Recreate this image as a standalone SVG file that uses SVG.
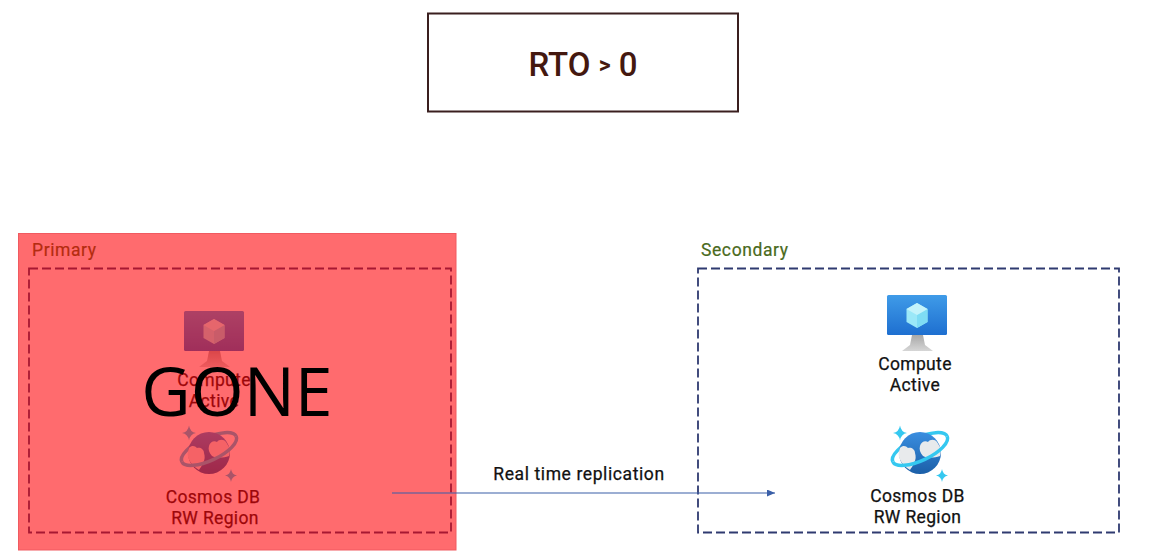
<svg xmlns="http://www.w3.org/2000/svg" width="1166" height="551" viewBox="0 0 1166 551">
<style>
text{font-family:Roboto,"Liberation Sans",sans-serif;fill:#111}
.lbl{font-size:17.5px;text-anchor:middle;letter-spacing:.35px;stroke:#111;stroke-width:.25}
.tag{font-size:17.5px;letter-spacing:.6px;stroke:#4a6a20;stroke-width:.2;fill:#4a6a20}
.zone{fill:none;stroke:#2f3a70;stroke-width:1.8;stroke-dasharray:9 4}
.conn{fill:none;stroke:#3a5fa8;stroke-width:1.1}
.ring{fill:none;stroke:#35c8f0;stroke-width:3.500}
</style>
<defs>
<linearGradient id="scr" x1="0" y1="0" x2="0" y2="1"><stop offset="0" stop-color="#3f9be8"/><stop offset="1" stop-color="#1e6fd0"/></linearGradient>
<linearGradient id="std" x1="0" y1="0" x2="0" y2="1"><stop offset="0" stop-color="#a8a8a8"/><stop offset="1" stop-color="#d6d6d6"/></linearGradient>
<linearGradient id="glb" x1="0" y1="0" x2="0" y2="1"><stop offset="0" stop-color="#3a8ee0"/><stop offset="1" stop-color="#1b5fa8"/></linearGradient>
<marker id="arr" markerWidth="9" markerHeight="8" refX="8" refY="3.500" orient="auto" markerUnits="userSpaceOnUse"><path d="M0 0L8 3.500L0 7Z" fill="#3a5fa8"/></marker>
<symbol id="vm" overflow="visible">
<path d="M25 40h11l2 10 8 6H15l8-6Z" fill="url(#std)"/>
<rect width="60" height="40" rx="1.500" fill="url(#scr)"/>
<path d="M30 8l10.500 6v13L30 33l-10.500-6V14Z" fill="#9be8f8"/>
<path d="M30 20l10.500-6v13L30 33Z" fill="#7fdcf4"/>
<path d="M30 20l-10.500-6L30 8l10.500 6Z" fill="#c4f3fb"/>
</symbol>
<symbol id="db" overflow="visible">
<path d="M-30 0A30 11.500 0 0 1 30 0" class="ring" transform="translate(0 -4) rotate(-25)"/>
<circle cx="0" cy="0" r="21" fill="url(#glb)"/>
<path d="M-20 -5c3-3 6-2 8 0 3-1 7 1 7 5 1 3 1 7-1 10-1 3-3 5-4 7-5-3-9-7-11-13-1-3 0-6 1-9Z" fill="#e8eaec"/>
<path d="M0-7c1-4 5-6 8-4 2-3 7-3 9 0l3 5c1 3 1 6 0 9-6 2-13 2-17 0-3-3-4-7-3-10Z" fill="#e8eaec"/>
<path d="M-30 0A30 11.500 0 0 0 30 0" class="ring" transform="translate(0 -4) rotate(-25)"/>
<path d="M-20-27.500q1 6.500 7 7.500q-6 1-7 7.500q-1-6.500-7-7.500q6-1 7-7.500Z" fill="#35c8f0"/>
<path d="M22 16q.8 5.500 6 6.500q-5.200 1-6 6.500q-.8-5.500-6-6.500q5.200-1 6-6.500Z" fill="#35c8f0"/>
</symbol>
</defs>
<rect width="1166" height="551" fill="#fff"/>

<g id="rto">
<rect x="428" y="13.500" width="310" height="98" fill="#fff" stroke="#3a1f1f" stroke-width="2"/>
<text x="583" y="76" text-anchor="middle" style="font-size:33px;fill:#44180f;font-weight:500">RTO <tspan font-size="23" font-weight="700" dy="-3">&gt;</tspan><tspan dy="3"> 0</tspan></text>
</g>

<g id="primary">
<rect x="29" y="268.500" width="422" height="264" class="zone"/>
<text x="32" y="256" class="tag">Primary</text>
</g>
<g id="primary-compute">
<use href="#vm" x="184" y="311"/>
<text x="214" y="386" class="lbl">Compute</text>
<text x="214" y="407" class="lbl">Active</text>
</g>
<g id="primary-cosmos">
<use href="#db" x="209" y="453"/>
<text x="213" y="503" class="lbl">Cosmos DB</text>
<text x="215" y="524" class="lbl">RW Region</text>
</g>
<rect id="gone-overlay" x="18.500" y="233.500" width="437.500" height="316.500" fill="#ff0005" fill-opacity=".58" stroke="#f05a60" stroke-width="1"/>
<text id="gone" x="237" y="416" text-anchor="middle" style="font-family:'Open Sans',sans-serif;font-size:68px;fill:#000">GONE</text>

<g id="secondary">
<rect x="698" y="268.500" width="421" height="264" class="zone"/>
<text x="701" y="256" class="tag">Secondary</text>
</g>
<g id="secondary-compute">
<use href="#vm" x="887" y="295"/>
<text x="915" y="370" class="lbl">Compute</text>
<text x="915" y="391" class="lbl">Active</text>
</g>
<g id="secondary-cosmos">
<use href="#db" x="920" y="453"/>
<text x="917.500" y="502" class="lbl">Cosmos DB</text>
<text x="917.500" y="523" class="lbl">RW Region</text>
</g>

<g id="connectors">
<path d="M392 493H775" class="conn" marker-end="url(#arr)"/>
</g>
<text id="replication-label" x="579" y="480" class="lbl" style="letter-spacing:.6px">Real time replication</text>
</svg>
